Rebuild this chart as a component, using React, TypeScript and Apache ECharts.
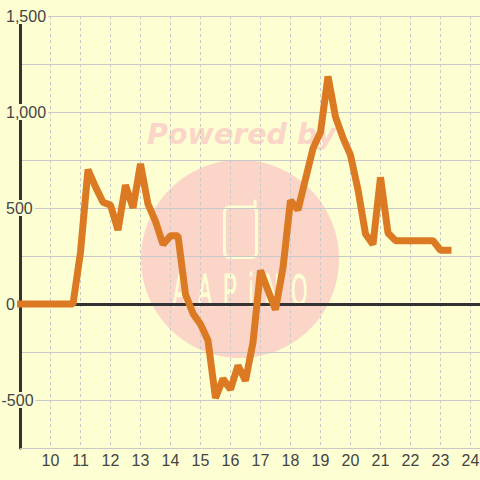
import React, { useEffect, useRef } from "react";
import * as echarts from "echarts";

const hours = [9,9.25,9.5,9.75,10,10.25,10.5,10.75,11,11.25,11.5,11.75,12,12.25,12.5,12.75,13,13.25,13.5,13.75,14,14.25,14.5,14.75,15,15.25,15.5,15.75,16,16.25,16.5,16.75,17,17.25,17.5,17.75,18,18.25,18.5,18.75,19,19.25,19.5,19.75,20,20.25,20.5,20.75,21,21.25,21.5,21.75,22,22.25,22.5,22.75,23,23.25];
const values = [0,0,0,0,0,0,0,0,270,700,610,530,515,385,620,500,730,520,430,310,355,355,50,-50,-105,-190,-490,-390,-445,-320,-400,-200,175,70,-30,190,540,490,650,810,895,1185,975,865,775,595,365,310,660,370,330,330,330,330,330,330,280,280];
const xTicks = [10,11,12,13,14,15,16,17,18,19,20,21,22,23,24];
const logoLetters = "A\u00A0\u00A0A\u00A0\u00A0P\u00A0\u00A0i\u00A0\u00A0N\u00A0\u00A0O";

const BG = "#FDFFD3";
const GRID = "#C8C8C8";

export default function App() {
  const ref = useRef<HTMLDivElement>(null);
  useEffect(() => {
    document.body.style.margin = "0";
    const chart = echarts.init(ref.current!, null, { renderer: "svg" });
    const data = hours.map((h, i) => [h, values[i]]);
    chart.setOption({
      animation: false,
      backgroundColor: BG,
      grid: { left: 20.5, right: -0.5, top: 16, bottom: 32, outerBoundsMode: "none" },
      graphic: [
        { type: "circle", z: -1, shape: { cx: 240, cy: 259, r: 99 }, style: { fill: "#FBD5C7" } },
        { type: "text", z: -1, x: 241.5, y: 134, style: { text: "Powered by", fill: "#FBD5C7", font: "italic bold 28.5px 'DejaVu Sans'", align: "center", verticalAlign: "middle" } },
        { type: "rect", z: -1, shape: { x: 224.5, y: 207, width: 32, height: 50.5, r: 5 }, style: { fill: "none", stroke: BG, lineWidth: 3 } },
        { type: "line", z: -1, shape: { x1: 255, y1: 207, x2: 255, y2: 201 }, style: { stroke: BG, lineWidth: 3, lineCap: "round" } },
        { type: "text", z: -1, x: 240, y: 291, scaleX: 0.45, style: { text: logoLetters, fill: BG, stroke: BG, lineWidth: 1, font: "46px 'Liberation Sans'", align: "center", verticalAlign: "middle" } },
      ],
      xAxis: [
        {
          type: "value", min: 9, max: 24 + 1 / 3, interval: 1, position: "bottom",
          axisLine: { onZero: false, lineStyle: { color: GRID, width: 1 } },
          axisTick: { show: false },
          axisLabel: { color: "#444", fontSize: 16, fontFamily: "Liberation Sans", margin: 4, showMinLabel: false, showMaxLabel: false,
            formatter: (v: number) => (xTicks.includes(v) ? String(v) : "") },
          splitLine: { show: true, showMinLine: false, showMaxLine: false, lineStyle: { color: GRID, type: [3, 3], width: 1 } },
        },
        {
          type: "value", min: 9, max: 24 + 1 / 3, interval: 1, position: "top",
          axisLine: { show: true, onZero: true, lineStyle: { color: "#333", width: 3 } },
          axisTick: { show: false }, axisLabel: { show: false }, splitLine: { show: false },
        },
      ],
      yAxis: {
        type: "value", min: -750, max: 1500, interval: 250,
        axisLine: { show: true, onZero: false, lineStyle: { color: "#333", width: 3 } },
        axisTick: { show: false },
        axisLabel: {
          align: "left", margin: 20.5, backgroundColor: BG, padding: [0, 2, 0, 0],
          formatter: (v: number) => {
            if (v % 500 !== 0) return "";
            if (v < 0) return "{n|" + v + "}";
            return "{p|" + v.toLocaleString("en-US") + "}";
          },
          rich: {
            p: { color: "#444", fontSize: 16, fontFamily: "Liberation Sans", padding: [0, 0, 0, 6] },
            n: { color: "#444", fontSize: 16, fontFamily: "Liberation Sans", padding: [0, 0, 0, 1.5] },
          },
        },
        splitLine: { show: true, lineStyle: { color: GRID, width: 1 } },
      },
      series: [
        {
          type: "line", data, showSymbol: false, clip: false, z: 5,
          lineStyle: { color: "#DC7A24", width: 7, cap: "square", join: "bevel" },
        },
      ],
    });
    return () => chart.dispose();
  }, []);
  return <div ref={ref} style={{ width: 480, height: 480, position: "absolute", left: 0, top: 0 }} />;
}
